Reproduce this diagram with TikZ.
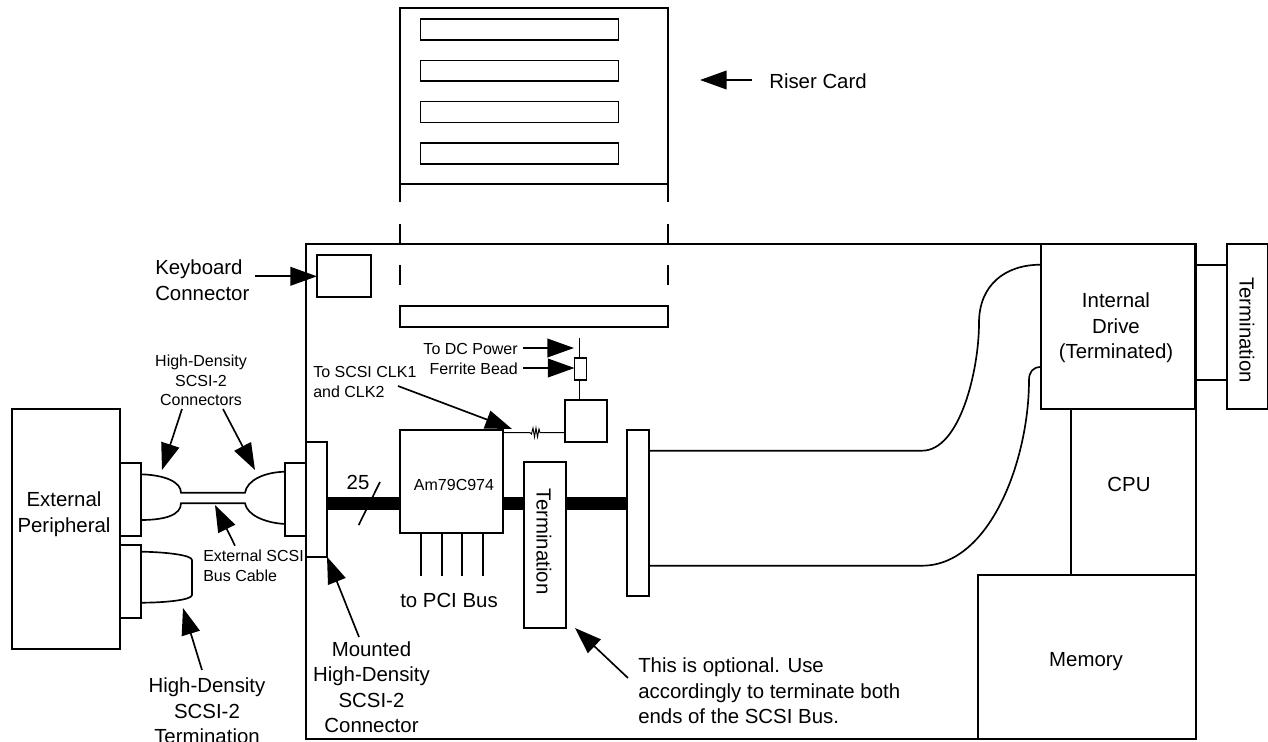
\documentclass[tikz,border=0pt]{standalone}
\usepackage{fontspec}
\setmainfont{Liberation Sans}
\usetikzlibrary{arrows.meta}
\newcommand{\bx}[6][]{%
  \pgfmathsetmacro{\bw}{(#4-#2)*0.75}\pgfmathsetmacro{\bh}{(#5-#3)*0.75}%
  \pgfmathsetmacro{\bcx}{(#4+#2)/2}\pgfmathsetmacro{\bcy}{(#5+#3)/2}%
  \node[boxn,minimum width=\bw pt,minimum height=\bh pt,#1] (#6) at (\bcx,\bcy) {};}
\tikzset{
  boxn/.style={draw,line width=1.25pt,inner sep=0pt,outer sep=0pt,fill=white},
  wire/.style={line width=1.25pt},
  thin wire/.style={line width=0.7pt},
  bus/.style={line width=9.8pt},
  pointer/.style={line width=1.25pt,-{Triangle[length=20pt,width=14pt]},shorten >=0pt},
  bigtxt/.style={inner sep=0pt,font=\fontsize{15.3}{19.1}\selectfont},
  smalltxt/.style={inner sep=0pt,font=\fontsize{12}{14.7}\selectfont},
}
\begin{document}
\begin{tikzpicture}[x=0.75pt,y=-0.75pt]
\useasboundingbox (0,0) rectangle (1268,742);
% board
\bx{306}{244}{1196}{739}{board}
% riser card
\bx{400}{8}{668}{184}{riser}
\bx{420.5}{19}{618.5}{40}{s1}
\bx{420.5}{60.5}{618.5}{81}{s2}
\bx{420.5}{101.5}{618.5}{122.5}{s3}
\bx{420.5}{143}{618.5}{164}{s4}
\bx{400}{306}{668}{327}{slot}
\coordinate (la) at (400,202); \coordinate (lb) at (400,224); \coordinate (lc) at (400,265); \coordinate (ld) at (400,285);
\coordinate (ra) at (668,202); \coordinate (rb) at (668,224); \coordinate (rc) at (668,265); \coordinate (rd) at (668,285);
\draw[wire] (riser.south west) -- (la) (lb) -- (la |- board.north) (lc) -- (ld);
\draw[wire] (riser.south east) -- (ra) (rb) -- (ra |- board.north) (rc) -- (rd);
\coordinate (riserA) at (752,80); \coordinate (riserB) at (700,80);
\draw[pointer] (riserA) -- (riserB);
\node[bigtxt,anchor=west] (risertxt) at (769,81) {Riser Card};
% keyboard
\bx{317}{255.3}{370.7}{297.3}{kb}
\coordinate (kbA) at (255,276.3);
\draw[pointer] (kbA) -- (kb.west);
\node[bigtxt,anchor=west,align=left] (kbtxt) at (155,280) {Keyboard\\Connector};
% external peripheral
\bx{12}{409}{120}{649}{ext}
\node[bigtxt,align=center] (exttxt) at (64,514) {External\\Peripheral};
\bx{120.5}{462.7}{141}{535.7}{pa}
\bx{120.5}{545}{141}{618}{pb}
\bx{285.3}{462.7}{306}{535.7}{pc}
\bx{306}{441.7}{327}{556.7}{mount}
% cable plugs
\coordinate (ta) at (141,474.3); \coordinate (tb) at (285.3,471.7);
\coordinate (ba) at (141,520); \coordinate (bb) at (285.3,524);
\draw[wire] (ta) .. controls (165,475) and (181,482) .. (181,492.7) -- (245,492.7) .. controls (247,480) and (265,472) .. (tb);
\draw[wire] (ba) .. controls (165,520) and (181,515) .. (181,503.3) -- (245,503.3) .. controls (247,515) and (265,523) .. (bb);
\coordinate (tta) at (141,551.7); \coordinate (ttb) at (141,602.7);
\draw[wire] (tta) .. controls (165,552) and (192,555) .. (192,560) -- (192,595) .. controls (192,600) and (165,602.7) .. (ttb);
% pointers, left part
\node[smalltxt,align=center] (hdc) at (201,380.5) {High-Density\\SCSI-2\\Connectors};
\coordinate (hdA) at (182,409); \coordinate (hdB) at (162,470);
\coordinate (hdC) at (223,409); \coordinate (hdD) at (255,470);
\draw[pointer] (hdA) -- (hdB);
\draw[pointer] (hdC) -- (hdD);
\node[smalltxt,align=left,anchor=west] (cabletxt) at (203,565.5) {External SCSI\\Bus Cable};
\coordinate (cbA) at (235,545.7); \coordinate (cbB) at (215,505);
\draw[pointer] (cbA) -- (cbB);
\node[bigtxt,align=center] (hdt) at (207,711) {High-Density\\SCSI-2\\Termination};
\coordinate (htA) at (202,670); \coordinate (htB) at (183,608);
\draw[pointer] (htA) -- (htB);
% chip and bus
\bx{400}{430}{503.3}{533.3}{am}
\node[smalltxt] (amtxt) at (454,485) {Am79C974};
\bx{524}{462.3}{565.7}{627.7}{term}
\node[bigtxt,rotate=-90] (termtxt) at (544,541.7) {Termination};
\bx{627.3}{430}{648.7}{595.7}{rconn}
\coordinate (busy) at (0,503.5);
\draw[bus] (mount.east |- busy) -- (am.west |- busy);
\draw[bus] (am.east |- busy) -- (term.west |- busy);
\draw[bus] (term.east |- busy) -- (rconn.west |- busy);
\coordinate (slA) at (380,482); \coordinate (slB) at (358.7,525);
\draw[wire] (slA) -- (slB);
\node[bigtxt] (n25) at (358,482.5) {25};
\foreach \i/\x in {1/420.7,2/441.7,3/462,4/483}{
  \coordinate (pci\i) at (\x,575.7);
  \draw[wire] (pci\i |- am.south) -- (pci\i);
}
\node[bigtxt] (pcitxt) at (449,600) {to PCI Bus};
% power section
\bx{565.3}{400}{606.7}{442}{clk}
\bx{574.5}{358.3}{586.5}{380}{bead}
\coordinate (pwr) at (579.5,338);
\draw[wire] (pwr) -- (pwr |- bead.north);
\draw[wire] (pwr |- bead.south) -- (pwr |- clk.north);
\coordinate (wy) at (0,432.7);
\draw[thin wire] (am.east |- wy) -- (530,432.7) -- (531.5,434) -- (533,428) -- (534.5,437) -- (536,428) -- (537.5,437) -- (539,429) -- (540,432.7) -- (clk.west |- wy);
\node[smalltxt,anchor=east] (dctxt) at (518,349) {To DC Power};
\node[smalltxt,anchor=east] (ferrtxt) at (518,369) {Ferrite Bead};
\coordinate (dcA) at (523,348); \coordinate (dcB) at (574,348);
\coordinate (feA) at (523,368);
\draw[pointer] (dcA) -- (dcB);
\draw[pointer] (feA) -- (bead.west |- feA);
\node[smalltxt,anchor=west,align=left] (clktxt) at (313,382) {To SCSI CLK1\\and CLK2};
\coordinate (ckA) at (398,386); \coordinate (ckB) at (512,429);
\draw[pointer] (ckA) -- (ckB);
% mounted label
\node[bigtxt,align=center] (mnt) at (371.5,687) {Mounted\\High-Density\\SCSI-2\\Connector};
\coordinate (mA) at (359,637);
\draw[pointer] (mA) -- (mount.south east);
% optional note
\node[bigtxt,anchor=west,align=left] (opt) at (638,691) {This is optional. Use\\accordingly to terminate both\\ends of the SCSI Bus.};
\coordinate (opA) at (628,678); \coordinate (opB) at (575,628);
\draw[pointer] (opA) -- (opB);
% right part
\bx{1040.7}{244}{1195}{409.3}{drive}
\node[bigtxt,align=center] (drivetxt) at (1116,328) {Internal\\Drive\\(Terminated)};
\bx{1226.7}{244}{1267.5}{409.3}{rterm}
\node[bigtxt,rotate=-90] (rtermtxt) at (1247,330) {Termination};
\coordinate (t1) at (0,264.7); \coordinate (t2) at (0,380);
\draw[wire] (drive.east |- t1) -- (rterm.west |- t1);
\draw[wire] (drive.east |- t2) -- (rterm.west |- t2);
\coordinate (cpuline) at (1071,409.3);
\bx{978}{575}{1196}{739}{mem}
\draw[wire] (cpuline) -- (cpuline |- mem.north);
\node[bigtxt] (cpu) at (1129,484) {CPU};
\node[bigtxt] (memtxt) at (1086,662) {Memory};
% ribbon cables
\coordinate (c1) at (648.7,450.7); \coordinate (c2) at (648.7,565.7);
\coordinate (d1) at (1040.7,264.7); \coordinate (d2) at (1040.7,367);
\draw[wire] (c1) -- (922,450.7) .. controls (960,450.7) and (979,370) .. (979,323) .. controls (979,285) and (1005,264.7) .. (d1);
\draw[wire] (c2) -- (922,565.7) .. controls (990,565.7) and (1029,460) .. (1029,380) .. controls (1029,372) and (1033,367) .. (d2);
\end{tikzpicture}
\end{document}
